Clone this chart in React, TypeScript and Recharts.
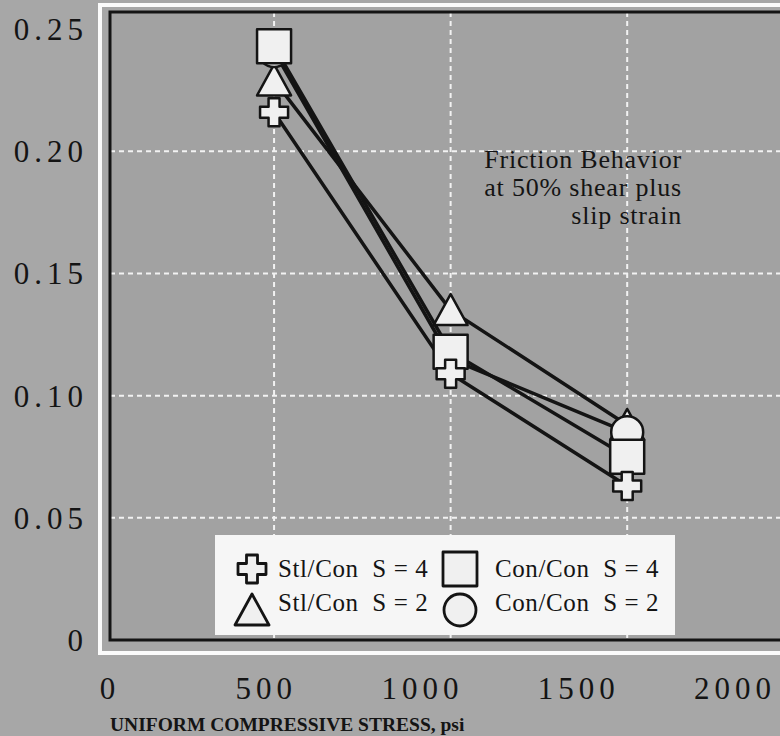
import { ComposedChart, Line, XAxis, YAxis, CartesianGrid, ReferenceArea, Legend, Label } from 'recharts'

// stress (psi) and friction coefficient for each pairing
const stress = [525, 1090, 1655]
const stlCon4 = [0.216, 0.109, 0.063]
const stlCon2 = [0.229, 0.135, 0.088]
const conCon4 = [0.243, 0.118, 0.075]
const conCon2 = [0.241, 0.115, 0.085]

const xTicks = [0, 500, 1000, 1500, 2000]
const yTicks = [0, 0.05, 0.1, 0.15, 0.2, 0.25]
const noteLines = ['Friction Behavior', 'at 50% shear plus', 'slip strain']

const data = stress.map((s, i) => ({
  stress: s,
  stlCon4: stlCon4[i],
  stlCon2: stlCon2[i],
  conCon4: conCon4[i],
  conCon2: conCon2[i],
}))

type Kind = 'cross' | 'square' | 'triangle' | 'circle'

// drawing order, bottom to top
const SERIES: { key: string; name: string; kind: Kind }[] = [
  { key: 'stlCon2', name: 'Stl/Con  S = 2', kind: 'triangle' },
  { key: 'conCon2', name: 'Con/Con  S = 2', kind: 'circle' },
  { key: 'conCon4', name: 'Con/Con  S = 4', kind: 'square' },
  { key: 'stlCon4', name: 'Stl/Con  S = 4', kind: 'cross' },
]

const PAGE = '#a7a7a7'
const PLOT = '#a2a2a2'
const INK = '#141414'
const MARK = '#f0f0f0'
const GRID = '#f2f2f2'
const SERIF = '"Liberation Serif", "Times New Roman", serif'

function Marker({ kind, cx, cy, stroke = 2.5 }: { kind: Kind; cx: number; cy: number; stroke?: number }) {
  const common = { fill: MARK, stroke: INK, strokeWidth: stroke, strokeLinejoin: 'round' as const }
  if (kind === 'square') return <rect x={cx - 17} y={cy - 17} width={34} height={34} {...common} />
  if (kind === 'circle') return <circle cx={cx} cy={cy} r={16} {...common} />
  if (kind === 'triangle') {
    return <path d={`M${cx},${cy - 16} L${cx + 17},${cy + 15} L${cx - 17},${cy + 15} Z`} {...common} />
  }
  const a = 14
  const t = 5.5
  const d = `M${cx - t},${cy - a} H${cx + t} V${cy - t} H${cx + a} V${cy + t} H${cx + t} V${cy + a} H${cx - t} V${cy + t} H${cx - a} V${cy - t} H${cx - t} Z`
  return <path d={d} {...common} />
}

function LegendBox() {
  const rows = [
    [SERIES[3], SERIES[2]],
    [SERIES[0], SERIES[1]],
  ]
  return (
    <svg width={460} height={100} style={{ display: 'block' }}>
      <rect x={0} y={0} width={460} height={100} fill="#f6f6f6" />
      {rows.map((row, r) =>
        row.map((s, c) => (
          <g key={s.key}>
            <Marker kind={s.kind} cx={c === 0 ? 37 : 245} cy={r === 0 ? 34 : 75} stroke={2.8} />
            <text
              x={c === 0 ? 63 : 280}
              y={r === 0 ? 42 : 76}
              fontFamily={SERIF}
              fontSize={25}
              letterSpacing={0.6}
              fill={INK}
              style={{ whiteSpace: 'pre' }}
            >
              {s.name}
            </text>
          </g>
        )),
      )}
    </svg>
  )
}

export default function App() {
  return (
    <div style={{ position: 'relative', width: 780, height: 736, overflow: 'hidden', background: PAGE }}>
      <style>{'body{margin:0}'}</style>
      <div
        style={{
          position: 'absolute',
          left: 98,
          top: 3,
          width: 760,
          height: 652,
          border: '4px solid #fbfbfb',
          boxSizing: 'border-box',
        }}
      />
      <div style={{ position: 'absolute', left: 0, top: 0 }}>
        <ComposedChart width={820} height={736} data={data} margin={{ top: 12, right: 10, bottom: 0, left: 0 }}>
          <CartesianGrid
            fill={PLOT}
            stroke={GRID}
            strokeWidth={2}
            strokeDasharray="5 4"
            horizontalValues={yTicks.slice(1, 5)}
            verticalValues={stress}
          />
          <XAxis
            type="number"
            dataKey="stress"
            domain={[0, 2240]}
            ticks={xTicks}
            interval={0}
            height={96}
            axisLine={false}
            tickLine={false}
            tickSize={0}
            tickMargin={37}
            tick={{ fontFamily: SERIF, fontSize: 31, fill: INK, letterSpacing: 5 }}
          >
            <Label
              content={(p: any) => (
                <text
                  x={p.viewBox.x}
                  y={p.viewBox.y + 91}
                  fontFamily={SERIF}
                  fontWeight="bold"
                  fontSize={19.5}
                  fill={INK}
                >
                  UNIFORM COMPRESSIVE STRESS, psi
                </text>
              )}
            />
          </XAxis>
          <YAxis
            type="number"
            domain={[0, 0.257]}
            ticks={yTicks}
            interval={0}
            width={110}
            axisLine={false}
            tickLine={false}
            tickSize={0}
            tickMargin={22}
            tickFormatter={(v: number) => (v === 0 ? '0' : v.toFixed(2))}
            tick={{ fontFamily: SERIF, fontSize: 31, fill: INK, letterSpacing: 5 }}
          />
          <ReferenceArea x1={0} x2={2240} y1={0} y2={0.257} fill="none" stroke={INK} strokeWidth={3} />
          {SERIES.map((s) => (
            <Line
              key={`line-${s.key}`}
              dataKey={s.key}
              name={s.name}
              type="linear"
              stroke={INK}
              strokeWidth={3.5}
              dot={false}
              activeDot={false}
              legendType="none"
              isAnimationActive={false}
            />
          ))}
          {SERIES.map((s) => (
            <Line
              key={`mark-${s.key}`}
              dataKey={s.key}
              type="linear"
              stroke="none"
              legendType="none"
              activeDot={false}
              isAnimationActive={false}
              dot={(p: any) => <Marker key={`${s.key}-${p.index}`} kind={s.kind} cx={p.cx} cy={p.cy} />}
            />
          ))}
          <Legend
            layout="horizontal"
            verticalAlign="middle"
            align="center"
            content={() => <LegendBox />}
            wrapperStyle={{ left: 215, top: 535, width: 460, height: 100 }}
          />
        </ComposedChart>
      </div>
      <div
        style={{
          position: 'absolute',
          right: 780 - 682,
          top: 146,
          textAlign: 'right',
          fontFamily: SERIF,
          fontSize: 26,
          lineHeight: '28px',
          color: INK,
          letterSpacing: 0.8,
        }}
      >
        {noteLines.map((l) => (
          <div key={l}>{l}</div>
        ))}
      </div>
    </div>
  )
}
